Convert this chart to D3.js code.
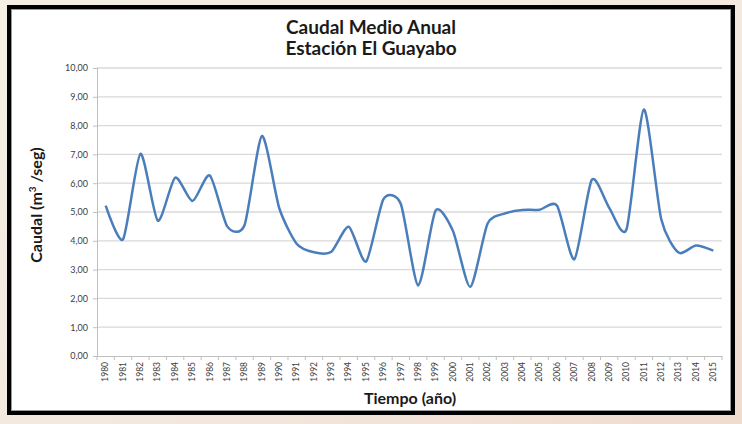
<!DOCTYPE html>
<html><head><meta charset="utf-8">
<script src="https://cdn.jsdelivr.net/npm/d3@7/dist/d3.min.js"></script>
<style>body{margin:0;padding:0;overflow:hidden;}svg{display:block;}</style>
</head><body>
<script>
const years = d3.range(1980, 2016).map(String);
const caudal = [5.22, 4.05, 7.02, 4.70, 6.19, 5.38, 6.27, 4.50, 4.55, 7.64,
  5.13, 3.90, 3.60, 3.62, 4.49, 3.28, 5.45, 5.28, 2.45, 5.05,
  4.35, 2.40, 4.60, 4.95, 5.07, 5.08, 5.22, 3.36, 6.12, 5.15,
  4.40, 8.56, 4.75, 3.59, 3.84, 3.66];
const yTicks = [0,1,2,3,4,5,6,7,8,9,10];
const titleLines = ["Caudal Medio Anual", "Estación El Guayabo"];

(function(){
const W = 742, H = 424;
const svg = d3.select("body").append("svg").attr("width", W).attr("height", H);
const defs = svg.append("defs");
const g1 = defs.append("linearGradient").attr("id","bg").attr("x1","0").attr("y1","0").attr("x2","1").attr("y2","1");
g1.append("stop").attr("offset","0").attr("stop-color","#f4efe4");
g1.append("stop").attr("offset","0.6").attr("stop-color","#f3e8de");
g1.append("stop").attr("offset","1").attr("stop-color","#f0dbcf");
svg.append("rect").attr("width",W).attr("height",H).attr("fill","url(#bg)");

// frame
svg.append("rect").attr("x",9).attr("y",7).attr("width",724).attr("height",406)
  .attr("fill","#ffffff").attr("stroke","#000").attr("stroke-width",4);
svg.append("rect").attr("x",11.5).attr("y",9.5).attr("width",719).attr("height",401)
  .attr("fill","none").attr("stroke","#9a9a9a").attr("stroke-width",1);

const pL = 97, pR = 722, pT = 68, pB = 356;
const x = d3.scaleBand().domain(years).range([pL, pR]);
const y = d3.scaleLinear().domain([0, 10]).range([pB, pT]);

// gridlines
svg.append("g").selectAll("line").data(yTicks.slice(1)).join("line")
  .attr("x1", pL).attr("x2", pR)
  .attr("y1", d => y(d)).attr("y2", d => y(d))
  .attr("stroke", "#d9d9d9").attr("stroke-width", 1.3);

const tf = "Lato, 'Open Sans', sans-serif";
// y axis
const yAxis = d3.axisLeft(y).tickValues(yTicks).tickSize(4).tickPadding(5)
  .tickFormat(d => d3.format(".2f")(d).replace(".", ","));
const ya = svg.append("g").attr("transform", `translate(${pL},0)`).call(yAxis);
ya.select(".domain").attr("stroke", "#bfbfbf").attr("stroke-width", 1);
ya.selectAll(".tick line").attr("stroke", "#bfbfbf");
ya.selectAll("text").attr("fill", "#404040").style("font-family", tf).style("font-size", "9px");

// x axis
const xAxis = d3.axisBottom(x).tickSize(0).tickPadding(0);
const xa = svg.append("g").attr("transform", `translate(0,${pB})`).call(xAxis);
xa.select(".domain").attr("stroke", "#bfbfbf").attr("stroke-width", 1);
xa.selectAll(".tick text")
  .attr("transform", "rotate(-90)")
  .attr("x", -6).attr("y", 0).attr("dy", "0.32em")
  .style("text-anchor", "end")
  .attr("fill", "#404040")
  .style("font-family", tf).style("font-size", "8.5px");
// boundary ticks
const bounds = years.map(d => x(d)).concat([pR]);
svg.append("g").selectAll("line").data(bounds).join("line")
  .attr("x1", d => d).attr("x2", d => d).attr("y1", pB).attr("y2", pB + 4)
  .attr("stroke", "#bfbfbf").attr("stroke-width", 1);

// line
const line = d3.line()
  .x((d, i) => x(years[i]) + x.bandwidth() / 2)
  .y(d => y(d))
  .curve(d3.curveCardinal.tension(0.3));
svg.append("path").datum(caudal).attr("d", line)
  .attr("fill", "none").attr("stroke", "#4a7ebb").attr("stroke-width", 2.5)
  .attr("stroke-linejoin", "round");

// titles
svg.append("g").selectAll("text").data(titleLines).join("text")
  .attr("x", 371).attr("y", (d, i) => 34 + i * 21)
  .attr("text-anchor", "middle").attr("fill", "#1a1a1a")
  .style("font-family", tf).style("font-weight", "bold").style("font-size", "19px")
  .text(d => d);

const yt = svg.append("text").attr("transform", "translate(42,205) rotate(-90)")
  .attr("text-anchor", "middle").attr("fill", "#1a1a1a")
  .style("font-family", tf).style("font-weight", "bold").style("font-size", "16px");
yt.append("tspan").text("Caudal (m");
yt.append("tspan").text("3").attr("dy", -6).style("font-size", "10px");
yt.append("tspan").text(" /seg)").attr("dy", 6);

svg.append("text").attr("x", 410).attr("y", 404).attr("text-anchor", "middle").attr("fill", "#1a1a1a")
  .style("font-family", tf).style("font-weight", "bold").style("font-size", "16px")
  .text("Tiempo (año)");
})();
</script>
</body></html>
